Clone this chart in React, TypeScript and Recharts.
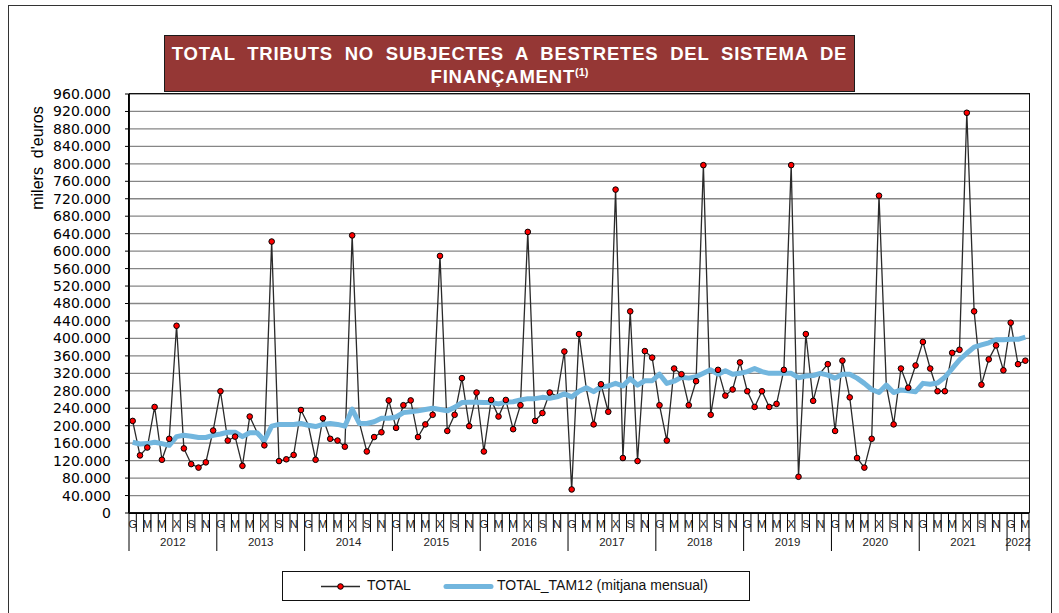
import React from 'react'
import { LineChart, Line, XAxis, YAxis, CartesianGrid } from 'recharts'

// months are labelled the catalan way, only every other one is printed
const monthLetters = ['G', 'F', 'M', 'A', 'M', 'J', 'X', 'A', 'S', 'O', 'N', 'D']
const years = [2012, 2013, 2014, 2015, 2016, 2017, 2018, 2019, 2020, 2021, 2022]

// TOTAL, milers d'euros, one array per year
const total2012 = [211000, 132000, 150000, 243000, 122000, 170000, 429000, 148000, 112000, 104000, 116000, 189000]
const total2013 = [279000, 166000, 175000, 108000, 221000, 185000, 155000, 622000, 119000, 123000, 133000, 236000]
const total2014 = [202000, 122000, 217000, 170000, 166000, 152000, 636000, 206000, 141000, 174000, 185000, 258000]
const total2015 = [195000, 247000, 258000, 174000, 203000, 225000, 589000, 188000, 225000, 309000, 199000, 276000]
const total2016 = [141000, 259000, 221000, 259000, 192000, 247000, 644000, 211000, 229000, 276000, 268000, 370000]
const total2017 = [54000, 410000, 285000, 203000, 295000, 232000, 741000, 126000, 462000, 119000, 371000, 356000]
const total2018 = [247000, 166000, 331000, 318000, 247000, 302000, 797000, 225000, 328000, 269000, 283000, 345000]
const total2019 = [279000, 243000, 279000, 243000, 250000, 328000, 797000, 83000, 410000, 257000, 321000, 341000]
const total2020 = [188000, 349000, 265000, 126000, 104000, 170000, 727000, 292000, 203000, 331000, 287000, 338000]
const total2021 = [392000, 331000, 279000, 279000, 367000, 374000, 917000, 462000, 294000, 352000, 384000, 327000]
const total2022 = [436000, 341000, 349000]

// TOTAL_TAM12 (mitjana mensual)
const tam2012 = [162000, 158000, 159000, 162000, 159000, 155000, 175000, 178000, 176000, 173000, 173000, 178000]
const tam2013 = [181000, 185000, 185000, 175000, 184000, 184000, 166000, 199000, 203000, 203000, 203000, 205000]
const tam2014 = [201000, 198000, 203000, 205000, 203000, 199000, 238000, 205000, 205000, 209000, 217000, 217000]
const tam2015 = [220000, 230000, 232000, 234000, 237000, 240000, 237000, 234000, 242000, 253000, 254000, 254000]
const tam2016 = [253000, 253000, 250000, 254000, 255000, 259000, 262000, 262000, 265000, 263000, 266000, 273000]
const tam2017 = [266000, 279000, 287000, 278000, 289000, 291000, 297000, 291000, 308000, 293000, 303000, 303000]
const tam2018 = [318000, 297000, 302000, 311000, 309000, 312000, 320000, 328000, 318000, 326000, 318000, 320000]
const tam2019 = [324000, 331000, 324000, 320000, 320000, 320000, 320000, 310000, 314000, 315000, 320000, 316000]
const tam2020 = [309000, 318000, 318000, 309000, 297000, 283000, 276000, 293000, 276000, 282000, 280000, 278000]
const tam2021 = [297000, 295000, 298000, 311000, 331000, 351000, 366000, 380000, 385000, 390000, 397000, 397000]
const tam2022 = [398000, 398000, 403000]

const yTicks = [0, 40000, 80000, 120000, 160000, 200000, 240000, 280000, 320000, 360000, 400000, 440000, 480000,
  520000, 560000, 600000, 640000, 680000, 720000, 760000, 800000, 840000, 880000, 920000, 960000]

const totals = [total2012, total2013, total2014, total2015, total2016, total2017, total2018, total2019, total2020, total2021, total2022]
const tams = [tam2012, tam2013, tam2014, tam2015, tam2016, tam2017, tam2018, tam2019, tam2020, tam2021, tam2022]

const data = years.flatMap((yr, yi) =>
  totals[yi].map((v, m) => ({ key: `${yr}-${m}`, total: v, tam: tams[yi][m] }))
)

const W = 1059
const H = 613
const PLOT_LEFT = 129
const PLOT_RIGHT = 1029
const PLOT_TOP = 94
const PLOT_BOTTOM = 513
const STEP = (PLOT_RIGHT - PLOT_LEFT) / data.length
const HW = STEP / 2
const LABEL_FONT = '"Liberation Sans", Arial, sans-serif'

const fmtThousands = (v: number) => String(v).replace(/\B(?=(\d{3})+(?!\d))/g, '.')

function MonthTick(props: any) {
  const { x, y, payload } = props
  const [yr, m] = String(payload.value).split('-').map(Number)
  const yi = years.indexOf(yr)
  const n = totals[yi].length
  const isLast = yi === years.length - 1 && m === n - 1
  const mid = Math.floor(n / 2)
  const yearOffset = n % 2 === 0 ? -HW : 0
  return (
    <g>
      <line x1={x - HW} x2={x - HW} y1={y} y2={y + (m === 0 ? 38 : 19)} stroke="#000" strokeWidth={1} />
      {isLast && <line x1={x + HW} x2={x + HW} y1={y} y2={y + 38} stroke="#000" strokeWidth={1} />}
      {m % 2 === 0 && (
        <text x={x} y={y + 15} textAnchor="middle" fontSize={11} fontFamily={LABEL_FONT} fill="#222">
          {monthLetters[m]}
        </text>
      )}
      {m === mid && (
        <text x={x + yearOffset} y={y + 33} textAnchor="middle" fontSize={11.5} fontFamily={LABEL_FONT} fill="#222">
          {yr}
        </text>
      )}
    </g>
  )
}

// markers sitting under the thick average line are covered by it in the original
function TotalDot(props: any) {
  const { cx, cy, payload, index } = props
  if (cx == null || cy == null) return <g key={index} />
  if (Math.abs(payload.total - payload.tam) < 4000) return <g key={index} />
  return <circle key={index} cx={cx} cy={cy} r={2.8} fill="#ff0000" stroke="#000" strokeWidth={1} />
}

export default function App() {
  return (
    <div style={{ position: 'absolute', left: 0, top: 0, width: W, height: H, overflow: 'hidden', background: '#fff' }}>
      <div style={{ position: 'absolute', left: 8, top: 5, width: 1044, height: 640, border: '1.5px solid #333', boxSizing: 'border-box' }} />

      <LineChart
        width={W}
        height={H}
        data={data}
        margin={{ top: PLOT_TOP, right: W - PLOT_RIGHT, left: 0, bottom: H - PLOT_BOTTOM - 100 }}
        style={{ position: 'absolute', left: 0, top: 0 }}
      >
        <CartesianGrid horizontal vertical={false} stroke="#868686" strokeWidth={1.3} />
        <XAxis
          dataKey="key"
          interval={0}
          tick={<MonthTick />}
          tickLine={false}
          tickSize={0}
          tickMargin={0}
          height={100}
          padding={{ left: HW, right: HW }}
          axisLine={{ stroke: '#000', strokeWidth: 2 }}
        />
        <YAxis
          type="number"
          domain={[0, 960000]}
          ticks={yTicks}
          interval={0}
          width={PLOT_LEFT}
          tickFormatter={fmtThousands}
          tickSize={4}
          tickMargin={14}
          tick={{ fontSize: 14, fill: '#000', fontFamily: '"DejaVu Sans", Verdana, sans-serif' }}
          tickLine={{ stroke: '#000' }}
          axisLine={{ stroke: '#000', strokeWidth: 2 }}
        />
        <Line
          type="linear"
          dataKey="total"
          stroke="#2a2a2a"
          strokeWidth={1.3}
          dot={TotalDot}
          isAnimationActive={false}
        />
        <Line
          type="linear"
          dataKey="tam"
          stroke="#72b6de"
          strokeWidth={5}
          dot={false}
          strokeLinejoin="round"
          isAnimationActive={false}
        />
      </LineChart>

      {/* plot area frame */}
      <div
        style={{
          position: 'absolute',
          left: PLOT_LEFT,
          top: PLOT_TOP - 1,
          width: PLOT_RIGHT - PLOT_LEFT + 1,
          height: PLOT_BOTTOM - PLOT_TOP + 1,
          border: '1.3px solid #111',
          boxSizing: 'border-box',
          pointerEvents: 'none',
        }}
      />

      <div
        style={{
          position: 'absolute',
          left: 14,
          top: 150,
          width: 110,
          textAlign: 'center',
          transform: 'translate(-32px, 0) rotate(-90deg)',
          transformOrigin: '55px 8px',
          fontFamily: LABEL_FONT,
          fontSize: 16,
          whiteSpace: 'pre',
          color: '#000',
        }}
      >
        {"milers  d'euros"}
      </div>

      {/* title */}
      <div
        style={{
          position: 'absolute',
          left: 164,
          top: 35,
          width: 691,
          height: 57,
          background: '#953735',
          border: '1.5px solid #1a1a1a',
          boxSizing: 'border-box',
          color: '#fff',
          fontFamily: '"Liberation Sans", Arial, sans-serif',
          fontWeight: 'bold',
          fontSize: 18.5,
          lineHeight: '23px',
          textAlign: 'center',
          paddingTop: 6,
          letterSpacing: 0.8,
          wordSpacing: 5.8,
        }}
      >
        <div>TOTAL TRIBUTS NO SUBJECTES A BESTRETES DEL SISTEMA DE</div>
        <div>
          FINANÇAMENT<sup style={{ fontSize: 11, verticalAlign: 'top', lineHeight: '14px', letterSpacing: 0 }}>(1)</sup>
        </div>
      </div>

      {/* legend */}
      <div
        style={{
          position: 'absolute',
          left: 282,
          top: 571,
          width: 468,
          height: 30,
          border: '1.5px solid #111',
          boxSizing: 'border-box',
          fontFamily: LABEL_FONT,
          fontSize: 14,
          color: '#111',
        }}
      >
        <svg width={468} height={28} style={{ position: 'absolute', left: 0, top: 0 }}>
          <line x1={38} x2={77} y1={14.5} y2={14.5} stroke="#2a2a2a" strokeWidth={1.3} />
          <circle cx={57.5} cy={14.5} r={2.8} fill="#ff0000" stroke="#000" strokeWidth={1} />
          <line x1={163} x2={208} y1={14.5} y2={14.5} stroke="#72b6de" strokeWidth={5} strokeLinecap="round" />
        </svg>
        <span style={{ position: 'absolute', left: 84, top: 5 }}>TOTAL</span>
        <span style={{ position: 'absolute', left: 214, top: 5 }}>TOTAL_TAM12 (mitjana mensual)</span>
      </div>
    </div>
  )
}
